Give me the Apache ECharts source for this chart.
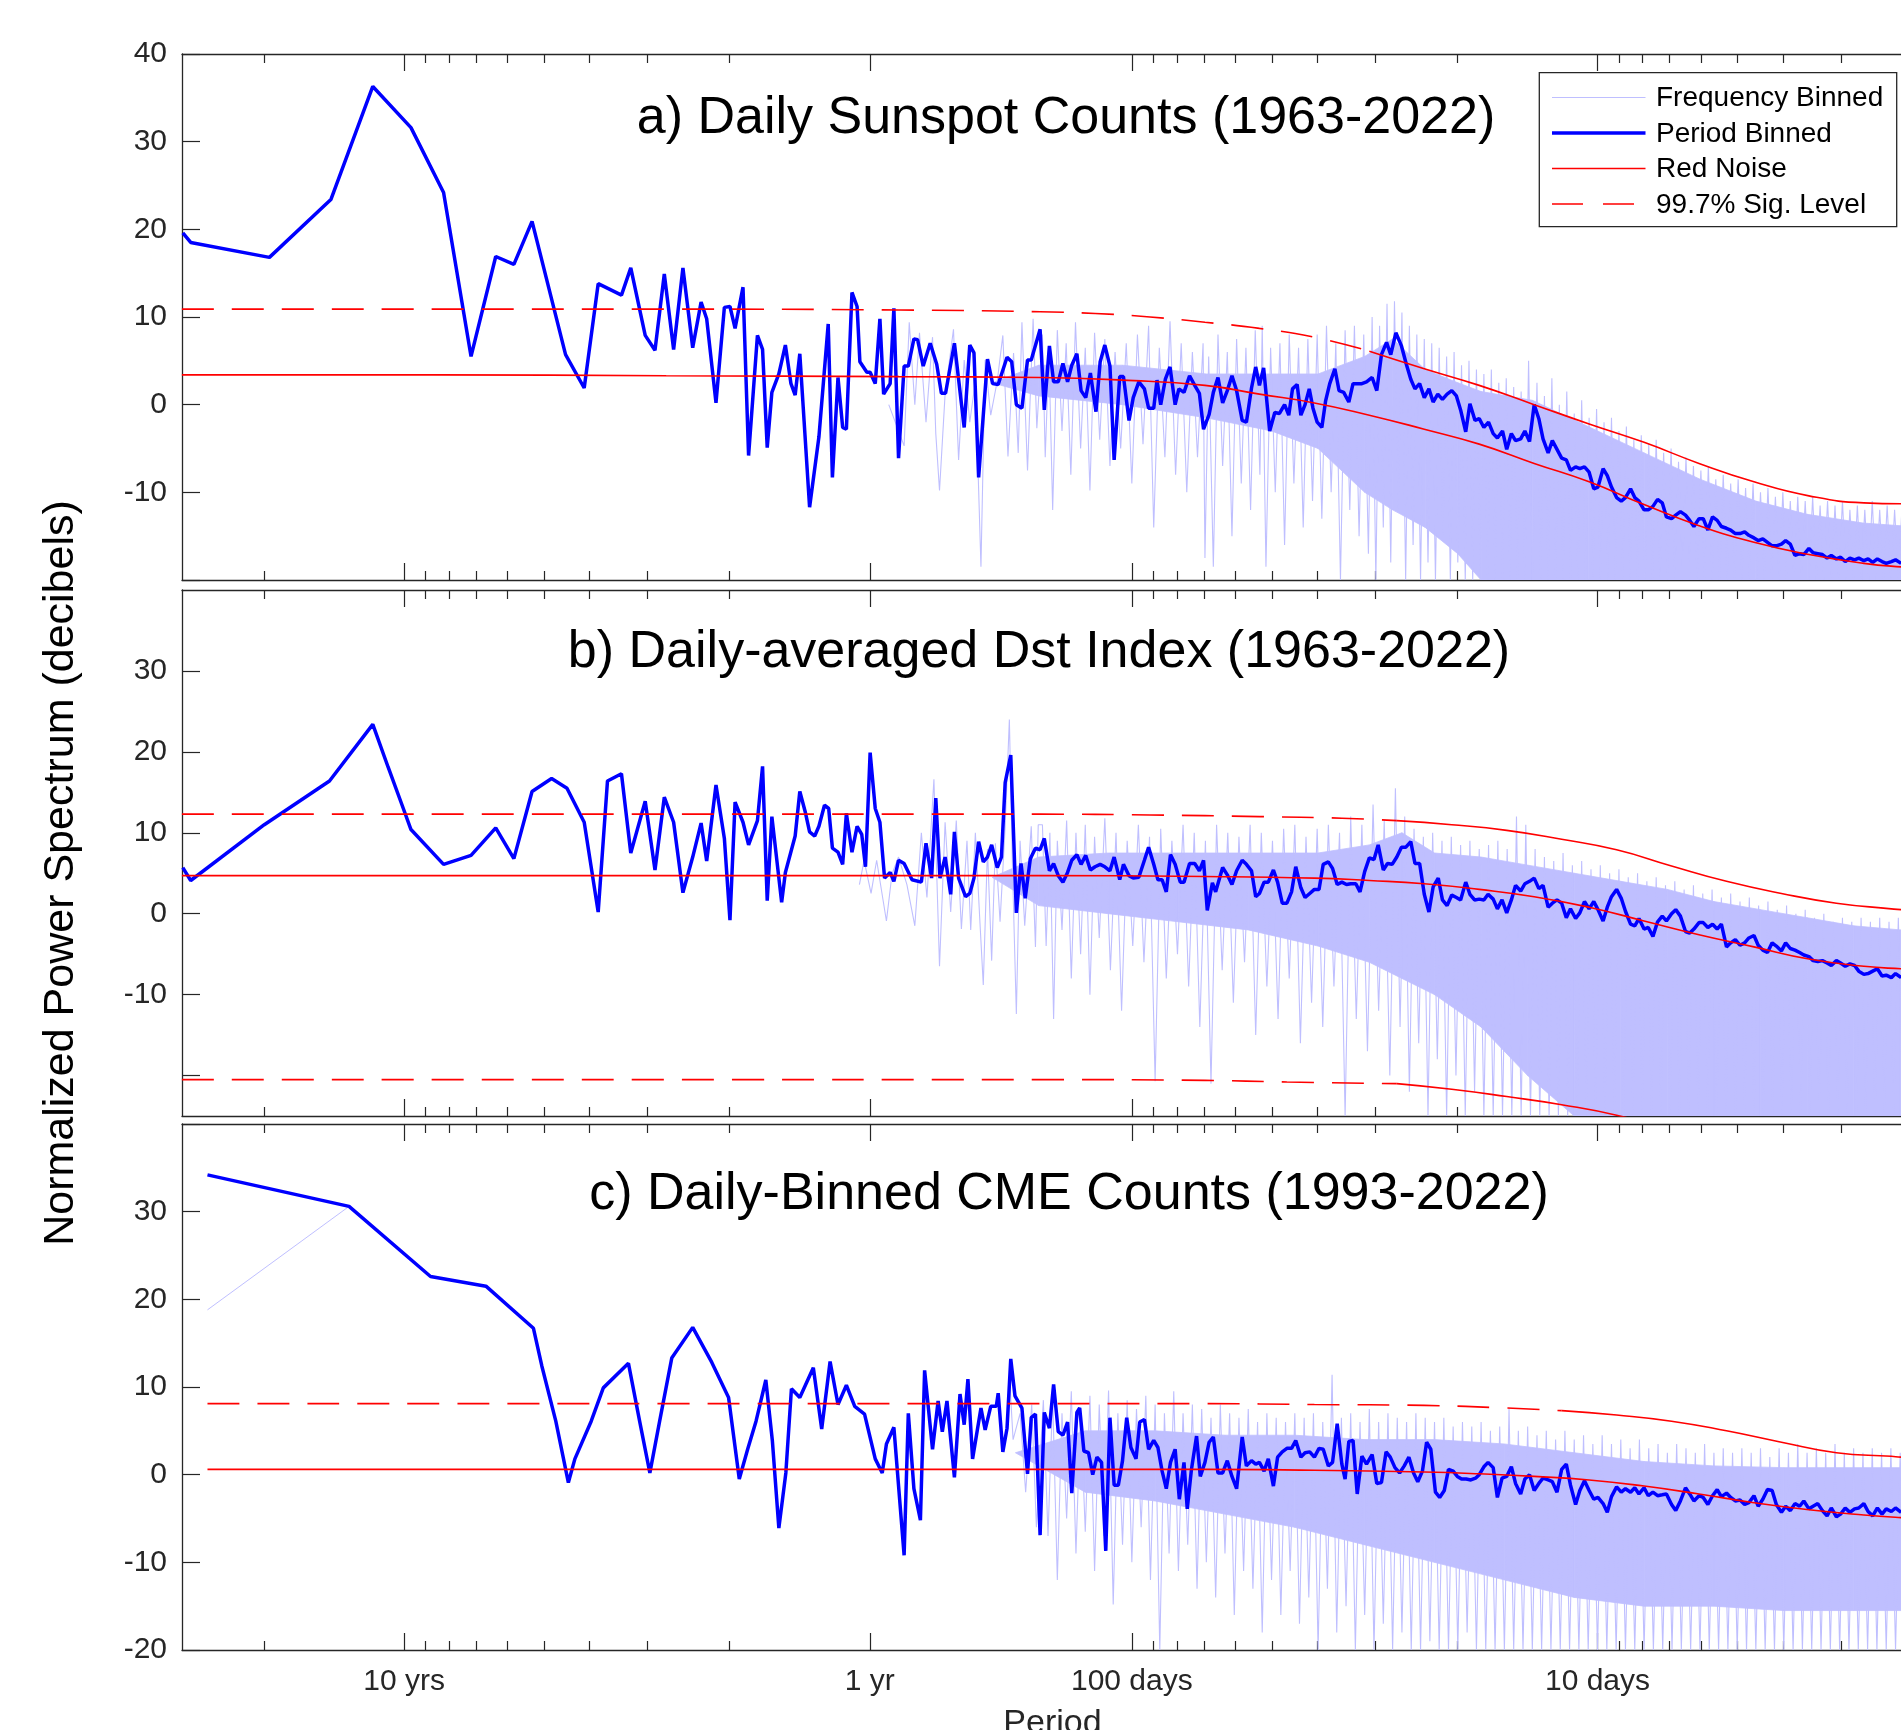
<!DOCTYPE html>
<html>
<head>
<meta charset="utf-8">
<title>Normalized power spectra</title>
<script src="https://cdn.jsdelivr.net/npm/echarts@6/dist/echarts.min.js"></script>
<style>
  html, body { margin: 0; padding: 0; background: #fff; }
  #chart { width: 1901px; height: 1730px; }
</style>
</head>
<body>
<div id="chart"></div>
<script>
// x values are log10(period in days), y values are dB

const periodTickDays = [3652.5, 365.25, 100, 10];
const periodTickLabels = ['10 yrs', '1 yr', '100 days', '10 days'];
const minorTickDays = [7305, 3287.25, 2922, 2556.75, 2191.5, 1826.25, 1461, 1095.75, 730.5,
  90, 80, 70, 60, 50, 40, 30, 20, 9, 8, 7, 6, 5, 4, 3, 2];
const periodRangeDays = [2, 10957.5];

const panelTitles = [
  'a) Daily Sunspot Counts (1963-2022)',
  'b) Daily-averaged Dst Index (1963-2022)',
  'c) Daily-Binned CME Counts (1993-2022)'
];
const yRanges = [[-20, 40], [-25, 40], [-20, 40]];
const yTickValues = [[-20, -10, 0, 10, 20, 30, 40], [-20, -10, 0, 10, 20, 30], [-20, -10, 0, 10, 20, 30, 40]];
const yLabelValues = [[-10, 0, 10, 20, 30, 40], [-10, 0, 10, 20, 30], [-20, -10, 0, 10, 20, 30]];
const legendNames = ['Frequency Binned', 'Period Binned', 'Red Noise', '99.7% Sig. Level'];

// ---------- a) sunspots ----------
const sunspotPeriodBinned = [
  [4.038,19.6],[4.021,18.5],[3.852,16.8],[3.720,23.4],[3.630,36.3],[3.548,31.6],[3.478,24.2],[3.419,5.5],
  [3.366,16.9],[3.327,16.0],[3.288,20.9],[3.216,5.7],[3.176,1.9],[3.146,13.8],[3.096,12.5],[3.076,15.6],
  [3.045,7.9],[3.024,6.2],[3.004,14.9],[2.984,6.3],[2.964,15.6],[2.943,6.5],[2.925,11.7],[2.913,9.8],
  [2.893,0.2],[2.875,11.1],[2.863,11.2],[2.852,8.7],[2.835,13.4],[2.823,-5.8],[2.804,7.9],[2.793,6.3],
  [2.783,-4.9],[2.773,1.4],[2.758,3.5],[2.744,6.8],[2.732,2.4],[2.723,1.1],[2.713,5.8],[2.692,-11.7],
  [2.672,-3.7],[2.652,9.2],[2.643,-8.3],[2.631,3.1],[2.621,-2.6],[2.613,-2.8],[2.601,12.8],[2.590,11.2],
  [2.584,4.9],[2.569,3.7],[2.562,3.7],[2.551,2.4],[2.541,9.8],[2.533,1.2],[2.519,2.4],[2.511,11.0],
  [2.501,-6.1],[2.489,4.4],[2.480,4.4],[2.468,7.5],[2.460,7.4],[2.448,4.4],[2.433,7.0],[2.419,4.6],
  [2.409,1.3],[2.400,1.3],[2.381,7.0],[2.360,-2.6],[2.348,6.8],[2.339,5.9],[2.329,-8.3],[2.310,5.2],
  [2.299,2.4],[2.287,2.3],[2.268,5.4],[2.258,4.9],[2.248,0.0],[2.236,-0.4],[2.224,5.1],[2.216,5.1],
  [2.197,8.6],[2.188,-0.6],[2.177,6.7],[2.168,2.6],[2.158,2.6],[2.148,4.7],[2.138,2.6],[2.129,4.5],
  [2.118,5.8],[2.109,1.6],[2.099,0.8],[2.089,3.6],[2.077,-0.8],[2.068,4.9],[2.058,6.8],[2.047,4.4],
  [2.038,-6.3],[2.026,3.2],[2.018,3.2],[2.006,-1.8],[1.997,0.8],[1.985,2.6],[1.973,1.8],[1.964,-0.4],
  [1.953,-0.4],[1.946,2.8],[1.938,0.0],[1.928,2.9],[1.918,4.3],[1.907,0.0],[1.899,1.8],[1.888,1.4],
  [1.876,3.3],[1.865,2.2],[1.855,1.3],[1.846,-2.8],[1.834,-1.1],[1.825,1.4],[1.815,3.1],[1.805,0.2],
  [1.795,1.6],[1.785,3.3],[1.775,1.6],[1.763,-1.8],[1.754,-2.0],[1.743,1.9],[1.734,4.3],[1.726,2.2],
  [1.717,4.2],[1.704,-3.0],[1.693,-0.9],[1.683,-1.0],[1.672,0.0],[1.663,-1.2],[1.655,1.8],[1.645,2.3],
  [1.637,-1.2],[1.628,0.0],[1.619,1.8],[1.611,-0.4],[1.602,-2.0],[1.592,-2.6],[1.584,0.4],[1.575,2.4],
  [1.564,4.1],[1.555,1.6],[1.545,1.4],[1.534,0.3],[1.525,2.4],[1.516,2.4],[1.506,2.4],[1.496,2.6],
  [1.484,3.1],[1.474,1.6],[1.464,5.7],[1.453,7.1],[1.444,5.7],[1.433,8.2],[1.421,6.7],[1.411,4.7],
  [1.401,2.9],[1.392,1.8],[1.382,2.4],[1.372,0.8],[1.362,1.8],[1.353,0.3],[1.343,1.2],[1.333,0.6],
  [1.323,1.2],[1.313,1.6],[1.303,1.0],[1.294,-0.6],[1.283,-3.1],[1.274,0.1],[1.263,-1.8],[1.254,-1.6],
  [1.244,-2.6],[1.234,-2.0],[1.224,-3.3],[1.215,-3.8],[1.204,-3.0],[1.195,-5.1],[1.185,-3.3],[1.176,-4.1],
  [1.165,-3.9],[1.156,-3.0],[1.146,-4.2],[1.136,0.0],[1.126,-1.6],[1.117,-3.9],[1.106,-5.5],[1.097,-4.1],
  [1.087,-5.1],[1.077,-6.1],[1.067,-6.3],[1.058,-7.5],[1.047,-7.1],[1.038,-7.3],[1.028,-7.1],[1.018,-7.7],
  [1.008,-9.6],[0.999,-9.4],[0.988,-7.3],[0.979,-8.1],[0.970,-9.4],[0.959,-10.6],[0.949,-11.0],[0.940,-10.6],
  [0.929,-9.6],[0.920,-10.6],[0.911,-11.0],[0.900,-12.0],[0.891,-12.0],[0.881,-11.6],[0.871,-10.8],[0.861,-11.2],
  [0.852,-12.8],[0.841,-13.0],[0.832,-12.6],[0.822,-12.2],[0.811,-12.6],[0.802,-13.2],[0.793,-13.9],[0.782,-13.0],
  [0.773,-13.0],[0.763,-14.3],[0.753,-12.8],[0.743,-13.2],[0.734,-13.9],[0.723,-14.1],[0.714,-14.3],[0.704,-14.7],
  [0.694,-14.7],[0.684,-14.5],[0.675,-14.9],[0.664,-15.2],[0.655,-15.5],[0.645,-15.3],[0.635,-15.7],[0.625,-16.1],
  [0.616,-16.1],[0.605,-15.9],[0.596,-15.5],[0.586,-15.9],[0.576,-17.2],[0.566,-17.0],[0.557,-17.1],[0.546,-16.4],
  [0.537,-16.9],[0.527,-17.0],[0.517,-17.1],[0.507,-17.5],[0.498,-17.2],[0.487,-17.6],[0.478,-17.4],[0.468,-17.9],
  [0.458,-17.5],[0.448,-17.7],[0.439,-17.5],[0.428,-17.8],[0.419,-17.6],[0.409,-18.0],[0.399,-17.6],[0.389,-17.9],
  [0.380,-18.1],[0.369,-17.9],[0.360,-17.7],[0.348,-18.1]
];
// dense part of the frequency-binned spectrum: [logP, low, high]
const sunspotFreqBand = [
  [2.30,2.5,2.5],[2.20,1.0,4.5],[2.02,0.0,4.5],[1.84,-1.5,3.5],[1.70,-3.0,3.5],[1.60,-5.0,3.5],
  [1.50,-10.0,5.5],[1.44,-12.0,7.5],[1.37,-14.0,4.0],[1.30,-17.0,2.5],[1.25,-20.0,1.5],[1.14,-20.0,0.5],
  [1.02,-20.0,-2.5],[0.90,-20.0,-5.5],[0.78,-20.0,-8.5],[0.66,-20.0,-11.0],[0.55,-20.0,-12.5],
  [0.43,-20.0,-13.5],[0.30,-20.0,-14.0]
];
const sunspotFreqSpikes = [
  [2.522,0.0],[2.489,-4.7],[2.478,9.4],[2.466,0.0],[2.456,8.2],[2.442,-2.0],[2.428,7.7],[2.421,-3.3],
  [2.413,-9.8],[2.401,1.2],[2.383,8.6],[2.372,-6.3],[2.360,5.1],[2.348,-2.0],[2.336,2.7],[2.324,-18.5],
  [2.315,5.1],[2.303,-1.2],[2.289,2.7],[2.277,7.9],[2.266,-5.9],[2.254,5.9],[2.244,-5.5],[2.236,9.4],
  [2.224,-7.5],[2.212,9.8],[2.204,-2.7],
  [2.192,8.0],[2.186,-6.0],[2.178,6.0],[2.170,-12.0],[2.160,8.5],[2.150,-3.0],[2.141,7.0],[2.131,-8.0],
  [2.121,9.4],[2.110,-5.0],[2.100,6.5],[2.090,-9.8],[2.080,8.2],[2.069,-4.0],[2.058,7.5],[2.047,-7.0],
  [2.036,6.0],[2.024,-5.0],[2.012,7.0],[2.000,-9.0],[1.988,8.0],[1.976,-4.5],[1.964,9.0],[1.953,-14.0],
  [1.941,6.5],[1.929,-6.0],[1.918,9.5],[1.906,-8.0],[1.894,7.0],[1.882,-10.0],[1.870,6.0],[1.859,-6.0],
  [1.847,7.0],[1.843,-17.5],[1.835,5.5],[1.825,-18.5],
  [1.815,8.0],[1.805,-7.0],[1.795,6.0],[1.785,-15.0],[1.775,7.5],[1.765,-9.0],[1.755,6.5],[1.745,-12.0],
  [1.735,8.5],[1.725,-8.0],[1.720,9.0],[1.712,-18.5],[1.702,6.5],[1.692,-10.0],[1.682,7.0],[1.672,-16.0],
  [1.662,8.0],[1.652,-9.0],[1.642,6.5],[1.632,-14.0],[1.622,7.5],[1.612,-11.0],[1.602,8.0],[1.592,-13.0],
  [1.582,9.0],[1.572,-10.0],[1.562,7.0],[1.552,-20.0],[1.542,8.5],[1.532,-12.0],[1.522,9.0],[1.512,-15.0],
  [1.502,8.0],[1.492,-17.0],
  [1.484,10.0],[1.476,-20.0],[1.468,9.0],[1.460,-14.0],[1.452,11.5],[1.444,-18.0],[1.436,11.8],[1.428,-12.0],
  [1.420,10.5],[1.412,-20.0],[1.404,9.0],[1.396,-16.0],[1.388,8.0],[1.380,-20.0],[1.372,7.5],
  [1.364,-18.0],[1.356,7.0],[1.348,-20.0],[1.340,6.5],[1.332,-15.0],[1.324,5.5],[1.316,-20.0],[1.308,6.0],
  [1.300,-18.0],[1.292,4.5],[1.284,-20.0],[1.276,5.0],[1.268,-20.0],[1.260,4.0],[1.252,-19.0],[1.244,3.5],
  [1.236,-20.0],[1.228,4.0],[1.220,-20.0],[1.212,2.5],[1.204,-20.0],[1.196,3.0],[1.188,-20.0],[1.180,2.0],
  [1.172,-20.0],[1.164,1.5],[1.156,-20.0],[1.148,5.0],[1.140,-20.0],
  [1.130,2.5],[1.122,-20],[1.114,1.0],[1.106,-20],[1.098,3.0],[1.090,-20],[1.082,0.0],[1.074,-20],
  [1.066,1.5],[1.058,-20],[1.050,-1.0],[1.042,-20],[1.034,0.5],[1.026,-20],[1.018,-1.5],[1.010,-20],
  [1.002,-0.5],[0.994,-20],[0.986,-2.0],[0.978,-20],[0.970,-1.5],[0.962,-20],[0.954,-3.0],[0.946,-20],
  [0.938,-2.5],[0.930,-20],[0.922,-4.0],[0.914,-20],[0.906,-3.5],[0.898,-20],[0.890,-4.5],[0.882,-20],
  [0.874,-4.0],[0.866,-20],[0.858,-5.5],[0.850,-20],[0.842,-5.0],[0.834,-20],[0.826,-6.5],[0.818,-20],
  [0.810,-6.0],[0.802,-20],[0.794,-7.0],[0.786,-20],[0.778,-7.5],[0.770,-20],[0.762,-7.0],[0.754,-20],
  [0.746,-8.5],[0.738,-20],[0.730,-8.0],[0.722,-20],[0.714,-9.0],[0.706,-20],[0.698,-8.5],[0.690,-20],
  [0.682,-9.5],[0.674,-20],[0.666,-9.0],[0.658,-20],[0.650,-10.0],[0.642,-20],[0.634,-9.5],[0.626,-20],
  [0.618,-10.5],[0.610,-20],[0.602,-10.0],[0.594,-20],[0.586,-11.0],[0.578,-20],[0.570,-10.5],[0.562,-20],
  [0.554,-11.0],[0.546,-20],[0.538,-10.5],[0.530,-20],[0.522,-11.5],[0.514,-20],[0.506,-11.0],[0.498,-20],
  [0.490,-11.5],[0.482,-20],[0.474,-11.0],[0.466,-20],[0.458,-12.0],[0.450,-20],[0.442,-11.5],[0.434,-20],
  [0.426,-12.0],[0.418,-20],[0.410,-11.0],[0.402,-20],[0.394,-12.0],[0.386,-20],[0.378,-11.5],[0.370,-20],
  [0.362,-12.0],[0.354,-20],[0.346,-11.5],[0.338,-20],[0.330,-12.0],[0.322,-20],[0.314,-11.5],[0.306,-20]
];
const sunspotRedNoise = [
  [4.040,3.4],[3.500,3.4],[3.000,3.3],[2.500,3.2],[2.197,3.1],[2.020,2.8],[1.843,2.2],[1.726,1.2],
  [1.608,0.2],[1.490,-1.2],[1.372,-2.8],[1.254,-4.5],[1.136,-6.7],[1.018,-8.8],[0.900,-11.4],[0.782,-13.8],
  [0.664,-15.7],[0.546,-17.1],[0.428,-18.1],[0.348,-18.5],[0.301,-18.6]
];
const sunspotSigDashed = [
  [4.040,10.9],[3.000,10.9],[2.500,10.8],[2.197,10.6],[2.079,10.4],[1.961,10.0],[1.843,9.4],[1.726,8.7],
  [1.608,7.7],[1.490,6.1]
];
const sunspotSigSolid = [
  [1.490,6.1],[1.372,4.1],[1.254,2.2],[1.136,0.0],[1.018,-2.2],[0.900,-4.3],[0.782,-6.7],[0.664,-8.8],
  [0.546,-10.4],[0.428,-11.2],[0.348,-11.3],[0.301,-11.3]
];

// ---------- b) Dst ----------
const dstPeriodBinned = [
  [4.038,5.7],[4.021,4.1],[3.863,11.0],[3.723,16.4],[3.630,23.4],[3.597,18.1],[3.567,13.4],[3.548,10.4],
  [3.478,6.1],[3.419,7.2],[3.366,10.6],[3.327,6.8],[3.288,15.1],[3.246,16.7],[3.213,15.5],[3.176,11.3],
  [3.146,0.2],[3.126,16.4],[3.096,17.3],[3.076,7.5],[3.045,13.9],[3.024,5.4],[3.004,14.4],[2.984,11.3],
  [2.964,2.6],[2.943,7.0],[2.925,11.2],[2.913,6.5],[2.893,15.9],[2.875,9.3],[2.863,-0.8],[2.852,13.8],
  [2.835,11.3],[2.823,8.5],[2.804,11.5],[2.793,18.2],[2.783,1.6],[2.773,12.0],[2.752,1.4],[2.744,5.1],
  [2.723,9.6],[2.713,15.1],[2.701,12.5],[2.692,10.1],[2.681,9.6],[2.672,10.8],[2.660,13.4],[2.651,13.0],
  [2.643,8.1],[2.631,7.6],[2.621,6.1],[2.613,12.4],[2.601,7.6],[2.590,10.8],[2.580,9.8],[2.572,5.8],
  [2.562,19.9],[2.551,13.0],[2.541,11.3],[2.531,4.4],[2.519,5.1],[2.511,4.0],[2.501,6.6],[2.489,6.2],
  [2.472,4.2],[2.452,3.9],[2.442,8.7],[2.430,4.4],[2.421,14.3],[2.412,4.4],[2.401,7.0],[2.389,2.4],
  [2.381,10.1],[2.372,4.4],[2.357,2.1],[2.348,2.5],[2.339,4.4],[2.329,8.9],[2.319,6.4],[2.310,7.0],
  [2.301,8.5],[2.289,5.7],[2.280,7.0],[2.272,16.2],[2.260,19.6],[2.248,0.1],[2.238,6.2],[2.229,1.9],
  [2.218,6.8],[2.207,8.1],[2.197,7.9],
  [2.188,9.3],[2.177,5.3],[2.168,6.2],[2.158,4.7],[2.148,3.9],[2.138,5.1],[2.129,6.6],[2.118,7.3],
  [2.109,6.1],[2.099,7.2],[2.089,5.4],[2.079,5.8],[2.068,6.1],[2.058,5.8],[2.047,5.3],[2.038,7.0],
  [2.026,4.2],[2.018,6.1],[2.006,4.7],[1.997,4.4],[1.985,4.5],[1.973,6.6],[1.964,8.2],[1.953,6.1],
  [1.944,4.2],[1.935,4.2],[1.926,2.7],[1.917,7.3],[1.907,6.1],[1.896,3.9],[1.888,3.9],[1.876,6.2],
  [1.865,6.2],[1.855,5.3],[1.846,6.6],[1.838,0.4],[1.827,3.8],[1.820,2.7],[1.805,5.7],[1.795,4.8],
  [1.785,3.6],[1.775,5.3],[1.763,6.6],[1.754,6.1],[1.743,5.3],[1.734,2.1],[1.726,2.5],[1.716,3.9],
  [1.707,3.9],[1.696,5.4],[1.687,3.9],[1.677,1.3],[1.667,1.3],[1.657,2.7],[1.648,5.8],[1.637,3.2],
  [1.628,2.0],[1.618,2.5],[1.608,3.0],[1.598,3.0],[1.589,6.1],[1.578,6.4],[1.569,5.6],[1.559,3.6],
  [1.549,3.9],[1.539,3.6],[1.530,3.7],[1.519,3.7],[1.510,2.7],[1.500,5.2],[1.490,6.9],[1.480,6.7],
  [1.471,8.5],[1.460,5.4],[1.451,6.2],[1.441,6.1],[1.431,7.0],[1.421,8.2],[1.412,8.2],[1.401,8.9],
  [1.392,6.2],[1.382,6.2],[1.372,2.4],[1.362,0.2],[1.353,3.3],[1.342,4.4],[1.333,1.7],[1.323,1.0],
  [1.313,2.3],[1.303,2.0],[1.294,1.7],[1.283,3.9],[1.274,2.4],[1.264,1.7],[1.254,1.8],[1.244,1.7],
  [1.235,2.4],[1.224,1.8],[1.215,0.6],[1.205,1.7],[1.195,0.1],[1.185,1.7],[1.176,3.5],[1.165,2.8],
  [1.156,3.7],[1.146,4.0],[1.136,4.4],[1.126,3.1],[1.117,3.5],[1.106,0.8],[1.097,1.3],[1.087,1.7],
  [1.077,1.3],[1.067,-0.5],[1.058,0.6],[1.047,-0.6],[1.038,0.1],[1.028,1.5],[1.018,0.6],[1.008,1.5],
  [0.999,0.5],[0.988,-0.9],[0.979,0.8],[0.970,2.1],[0.959,3.0],[0.949,1.9],[0.940,0.3],[0.929,-1.3],
  [0.920,-1.5],[0.911,-0.6],[0.900,-1.9],[0.891,-1.7],[0.881,-2.8],[0.871,-1.0],[0.861,-0.3],[0.852,-0.9],
  [0.841,0.0],[0.832,0.5],[0.822,-0.3],[0.811,-2.2],[0.802,-2.4],[0.793,-1.9],[0.782,-1.1],[0.773,-1.1],
  [0.763,-1.7],[0.753,-1.3],[0.743,-1.9],[0.734,-1.3],[0.723,-4.1],[0.714,-3.6],[0.704,-3.2],[0.694,-3.9],
  [0.684,-3.6],[0.675,-3.0],[0.664,-2.7],[0.655,-3.9],[0.645,-4.5],[0.635,-4.8],[0.625,-3.6],[0.616,-4.0],
  [0.605,-4.6],[0.596,-3.6],[0.586,-4.3],[0.576,-4.5],[0.566,-4.8],[0.557,-5.1],[0.546,-5.3],[0.537,-5.8],
  [0.527,-5.9],[0.517,-5.8],[0.507,-6.1],[0.498,-6.4],[0.487,-5.8],[0.478,-6.1],[0.468,-6.5],[0.458,-6.2],
  [0.448,-6.4],[0.439,-7.1],[0.428,-7.5],[0.419,-7.4],[0.409,-7.1],[0.399,-6.8],[0.389,-7.7],[0.380,-7.6],
  [0.369,-7.9],[0.360,-7.4],[0.348,-7.9]
];
const dstFreqBand = [
  [2.30,4.5,4.5],[2.20,1.0,7.0],[2.05,0.0,7.5],[1.90,-1.0,7.5],[1.75,-2.0,7.5],[1.60,-4.0,7.5],
  [1.49,-6.0,8.5],[1.42,-8.0,10.0],[1.35,-10.0,7.5],[1.25,-14.0,7.0],[1.15,-20.0,6.0],[1.05,-25.0,5.0],
  [0.95,-25.0,4.0],[0.85,-25.0,3.0],[0.75,-25.0,1.5],[0.65,-25.0,0.5],[0.55,-25.0,-0.5],[0.45,-25.0,-1.5],
  [0.35,-25.0,-2.0],[0.30,-25.0,-2.0]
];
const dstFreqSpikes = [
  [2.585,3.6],[2.575,6.6],[2.560,2.5],[2.548,6.6],[2.527,-0.9],[2.515,4.9],[2.501,7.0],[2.483,3.6],
  [2.466,-1.5],[2.452,10.0],[2.440,2.0],[2.425,16.6],[2.413,-6.5],[2.401,11.3],[2.389,0.2],[2.377,11.5],
  [2.366,-1.9],[2.354,9.0],[2.346,-2.0],[2.336,10.0],[2.327,-0.2],[2.319,-8.8],[2.310,8.0],[2.301,-5.8],
  [2.293,8.7],[2.283,-1.0],[2.272,10.8],[2.263,24.0],[2.256,5.0],[2.248,-12.4],[2.240,9.0],[2.230,-1.5],
  [2.216,10.8],[2.207,-4.1],[2.201,11.0],
  [2.192,11.0],[2.184,-4.0],[2.176,10.0],[2.168,-13.0],[2.160,9.0],[2.150,-2.0],[2.140,11.5],[2.130,-8.0],
  [2.120,10.0],[2.110,-5.0],[2.100,11.0],[2.090,-10.0],[2.080,9.5],[2.070,-3.0],[2.058,11.8],[2.046,-7.0],
  [2.034,10.0],[2.022,-12.0],[2.010,9.0],[1.998,-4.0],[1.986,11.0],[1.974,-6.0],[1.962,9.5],[1.950,-20.7],
  [1.938,10.5],[1.926,-8.0],[1.914,9.0],[1.902,-5.0],[1.890,11.0],[1.878,-9.0],[1.866,10.0],[1.854,-14.0],
  [1.842,9.0],[1.830,-21.0],[1.818,11.0],[1.806,-7.0],[1.794,10.0],[1.782,-11.0],[1.770,9.5],[1.758,-6.0],
  [1.746,11.0],[1.734,-15.0],[1.722,10.0],[1.710,-9.0],[1.698,9.0],[1.686,-13.0],[1.674,10.5],[1.662,-8.0],
  [1.650,11.0],[1.638,-16.0],[1.626,9.5],[1.614,-11.0],[1.602,10.5],[1.590,-14.0],[1.578,11.0],[1.566,-9.0],
  [1.554,10.0],[1.542,-25.0],[1.530,12.0],[1.518,-13.0],[1.506,11.0],[1.494,-17.0],[1.482,13.5],[1.470,-12.0],
  [1.458,11.5],[1.446,-20.0],[1.434,15.5],[1.424,-14.0],[1.414,12.0],[1.404,-22.0],[1.394,10.5],[1.384,-16.0],
  [1.374,9.5],[1.364,-25.0],[1.354,10.0],[1.344,-18.0],[1.334,9.0],[1.324,-25.0],[1.314,9.5],[1.304,-20.0],
  [1.294,8.5],[1.284,-25.0],[1.274,9.0],[1.264,-22.0],[1.254,8.0],[1.244,-25.0],[1.234,8.5],[1.224,-25.0],
  [1.214,9.0],[1.204,-25.0],[1.194,8.0],[1.184,-25.0],[1.174,12.0],[1.164,-25.0],[1.154,11.0],[1.144,-25.0],
  [1.134,8.0],[1.124,-25.0],[1.114,7.0],[1.104,-25.0],[1.094,6.5],[1.084,-25.0],[1.074,7.5],[1.064,-25.0],
  [1.054,6.0],[1.044,-25.0],[1.034,6.5],[1.024,-25.0],[1.014,5.5],[1.004,-25.0],[0.994,6.0],[0.984,-25.0],
  [0.974,5.0],[0.964,-25.0],[0.954,5.5],[0.944,-25.0],[0.934,4.5],[0.924,-25.0],[0.914,5.0],[0.904,-25.0],
  [0.894,4.0],[0.884,-25.0],[0.874,4.5],[0.864,-25.0],[0.854,3.5],[0.844,-25.0],[0.834,4.0],[0.824,-25.0],
  [0.814,3.0],[0.804,-25.0],[0.794,3.5],[0.784,-25.0],[0.774,2.5],[0.764,-25.0],[0.754,3.0],[0.744,-25.0],
  [0.734,2.0],[0.724,-25.0],[0.714,2.5],[0.704,-25.0],[0.694,1.5],[0.684,-25.0],[0.674,2.0],[0.664,-25.0],
  [0.654,1.0],[0.644,-25.0],[0.634,1.5],[0.624,-25.0],[0.614,0.5],[0.604,-25.0],[0.594,1.0],[0.584,-25.0],
  [0.574,0.0],[0.564,-25.0],[0.554,0.5],[0.544,-25.0],[0.534,-0.5],[0.524,-25.0],[0.514,0.0],[0.504,-25.0],
  [0.494,-1.0],[0.484,-25.0],[0.474,-0.5],[0.464,-25.0],[0.454,-1.0],[0.444,-25.0],[0.434,-0.5],[0.424,-25.0],
  [0.414,-1.0],[0.404,-25.0],[0.394,-0.5],[0.384,-25.0],[0.374,-1.0],[0.364,-25.0],[0.354,-0.5],[0.344,-25.0],
  [0.334,-1.0],[0.324,-25.0],[0.314,-0.5],[0.304,-25.0]
];
const dstRedNoise = [
  [4.040,4.7],[3.000,4.7],[2.197,4.7],[1.843,4.6],[1.608,4.4],[1.490,4.1],[1.372,3.7],[1.254,3.0],
  [1.136,2.1],[1.018,0.8],[0.900,-0.9],[0.782,-2.6],[0.664,-4.1],[0.546,-5.6],[0.428,-6.5],[0.348,-6.8],
  [0.301,-6.9]
];
const dstSigDashed = [
  [4.040,12.3],[3.000,12.3],[2.197,12.3],[1.961,12.2],[1.726,12.0],[1.549,11.8],[1.431,11.5]
];
const dstSigSolid = [
  [1.431,11.5],[1.313,11.0],[1.195,10.3],[1.077,9.2],[0.959,7.9],[0.841,5.9],[0.723,4.0],[0.605,2.5],
  [0.487,1.3],[0.369,0.6],[0.348,0.5],[0.301,0.4]
];
const dstSigLowDashed = [
  [4.040,-20.5],[3.000,-20.5],[2.197,-20.5],[1.843,-20.6],[1.667,-20.8],[1.431,-21.0]
];
const dstSigLowSolid = [
  [1.431,-21.0],[1.313,-21.7],[1.195,-22.6],[1.077,-23.6],[0.959,-24.9],[0.841,-26.8]
];

// ---------- c) CMEs ----------
const cmeFreqLead = [[3.985,18.8],[3.681,30.6]];
const cmePeriodBinned = [
  [3.985,34.2],[3.681,30.6],[3.506,22.6],[3.387,21.5],[3.285,16.7],[3.267,12.4],[3.237,6.1],[3.210,-0.9],
  [3.196,1.8],[3.161,6.1],[3.135,9.9],[3.081,12.7],[3.057,6.1],[3.035,0.2],[3.014,6.1],[2.988,13.3],
  [2.943,16.8],[2.902,12.8],[2.866,8.8],[2.843,-0.5],[2.825,2.9],[2.807,6.1],[2.786,10.8],[2.772,3.9],
  [2.758,-6.1],[2.743,0.2],[2.731,9.8],[2.713,8.8],[2.684,12.2],[2.666,5.2],[2.648,12.9],[2.631,8.0],
  [2.613,10.2],[2.595,7.8],[2.574,6.9],[2.551,1.8],[2.536,0.2],[2.527,3.5],[2.511,5.4],[2.489,-9.2],
  [2.480,7.0],[2.468,-1.6],[2.454,-5.2],[2.445,11.9],[2.428,2.9],[2.416,8.4],[2.407,4.9],[2.397,8.4],
  [2.381,-0.3],[2.369,9.2],[2.360,5.7],[2.352,10.9],[2.342,1.8],[2.324,7.6],[2.315,5.1],[2.303,7.8],
  [2.291,7.8],[2.287,9.3],[2.277,2.6],[2.268,5.3],[2.260,13.2],[2.251,9.0],[2.236,7.6],[2.224,0.1],
  [2.216,6.5],[2.207,6.9],[2.197,-6.9],
  [2.188,7.1],[2.177,5.3],[2.168,10.3],[2.158,4.9],[2.148,4.5],[2.138,6.0],[2.129,-2.1],[2.118,7.1],
  [2.112,7.6],[2.103,2.7],[2.093,2.5],[2.084,0.0],[2.075,2.0],[2.065,1.4],[2.056,-8.7],[2.047,6.5],
  [2.038,-1.2],[2.029,-1.2],[2.020,1.6],[2.011,6.5],[2.002,3.1],[1.991,1.8],[1.983,6.0],[1.973,6.3],
  [1.964,2.9],[1.953,3.9],[1.944,3.1],[1.935,0.4],[1.926,-1.6],[1.917,1.4],[1.907,2.9],[1.898,-2.8],
  [1.888,1.4],[1.881,-3.9],[1.872,0.6],[1.861,4.4],[1.853,-0.2],[1.843,1.4],[1.834,3.7],[1.825,4.3],
  [1.815,0.2],[1.805,0.2],[1.795,1.6],[1.785,-0.2],[1.775,-1.6],[1.763,4.3],[1.754,1.0],[1.743,1.6],
  [1.734,1.2],[1.726,1.4],[1.716,0.4],[1.707,1.8],[1.696,-1.3],[1.687,2.0],[1.677,2.6],[1.667,3.0],
  [1.657,3.0],[1.648,3.9],[1.637,2.0],[1.628,2.5],[1.618,2.6],[1.608,2.0],[1.598,3.0],[1.589,2.9],
  [1.578,1.0],[1.569,1.4],[1.559,5.8],[1.549,1.2],[1.542,-0.5],[1.534,3.8],[1.525,3.9],[1.516,-2.2],
  [1.506,2.1],[1.496,1.2],[1.484,2.3],[1.474,-1.0],[1.464,-0.9],[1.454,2.6],[1.445,2.0],[1.435,0.8],
  [1.425,0.2],[1.415,1.0],[1.405,2.0],[1.395,0.2],[1.386,-0.8],[1.376,0.4],[1.367,3.7],[1.358,2.9],
  [1.348,-2.0],[1.339,-2.6],[1.329,-1.8],[1.320,0.6],[1.310,0.4],[1.301,-0.2],[1.292,-0.5],[1.282,-0.5],
  [1.272,-0.6],[1.262,-0.4],[1.254,0.0],[1.244,0.9],[1.235,1.4],[1.224,0.8],[1.215,-2.6],[1.205,-0.4],
  [1.195,-0.2],[1.185,0.9],[1.176,-1.0],[1.165,-2.2],[1.156,-0.5],[1.146,0.0],[1.136,-1.8],[1.126,-1.0],
  [1.117,-0.4],[1.106,-0.6],[1.097,-0.8],[1.087,-2.0],[1.077,0.6],[1.067,1.2],[1.058,-1.2],[1.047,-3.4],
  [1.038,-1.8],[1.028,-0.7],[1.018,-1.8],[1.008,-2.8],[0.999,-2.6],[0.988,-3.3],[0.979,-4.3],[0.970,-2.5],
  [0.959,-1.4],[0.949,-2.0],[0.940,-1.6],[0.929,-2.0],[0.920,-1.5],[0.911,-2.2],[0.900,-1.5],[0.891,-2.4],
  [0.881,-2.0],[0.871,-2.4],[0.861,-2.3],[0.852,-2.2],[0.841,-3.4],[0.832,-4.1],[0.822,-3.0],[0.811,-1.5],
  [0.802,-2.2],[0.793,-3.0],[0.782,-2.4],[0.773,-2.6],[0.763,-3.4],[0.753,-2.4],[0.743,-1.7],[0.734,-2.5],
  [0.723,-2.1],[0.714,-2.6],[0.704,-3.0],[0.694,-2.9],[0.684,-3.4],[0.675,-3.2],[0.664,-2.4],[0.655,-3.6],
  [0.645,-2.8],[0.635,-1.7],[0.625,-1.8],[0.616,-3.4],[0.605,-4.3],[0.596,-3.6],[0.586,-4.1],[0.576,-3.3],
  [0.566,-3.6],[0.557,-3.0],[0.546,-3.9],[0.537,-3.6],[0.527,-3.3],[0.517,-4.1],[0.507,-4.7],[0.498,-3.8],
  [0.487,-4.8],[0.478,-4.5],[0.468,-3.8],[0.458,-4.3],[0.448,-3.9],[0.439,-3.8],[0.428,-3.3],[0.419,-4.2],
  [0.409,-4.7],[0.399,-3.8],[0.389,-4.5],[0.380,-3.9],[0.369,-4.2],[0.360,-3.8],[0.348,-4.3]
];
const cmeFreqBand = [
  [2.25,2.5,2.5],[2.10,-2.0,5.0],[1.95,-3.0,5.0],[1.80,-4.5,4.5],[1.65,-6.0,4.5],[1.50,-8.0,4.0],
  [1.35,-10.0,4.0],[1.20,-12.0,3.5],[1.05,-14.0,2.5],[0.90,-15.0,1.5],[0.75,-15.0,1.0],[0.60,-15.5,0.8],
  [0.45,-15.5,0.8],[0.30,-15.5,0.8]
];
const cmeFreqSpikes = [
  [2.262,10.6],[2.255,4.0],[2.240,7.0],[2.228,-2.0],[2.215,8.0],[2.205,-6.0],
  [2.190,8.5],[2.180,-7.0],[2.170,9.0],[2.160,-12.0],[2.150,7.0],[2.140,-5.0],[2.130,9.5],[2.120,-9.0],
  [2.110,7.5],[2.100,-6.5],[2.090,9.0],[2.080,-11.0],[2.070,8.0],[2.060,-7.0],[2.050,9.6],[2.040,-14.8],
  [2.030,7.0],[2.020,-8.0],[2.010,8.5],[2.000,-10.0],[1.990,7.5],[1.980,-6.0],[1.970,9.0],[1.960,-12.0],
  [1.950,8.0],[1.940,-20.0],[1.930,7.0],[1.920,-9.0],[1.910,9.5],[1.900,-11.0],[1.890,7.0],[1.880,-8.0],
  [1.870,8.0],[1.860,-13.0],[1.850,7.5],[1.840,-10.0],[1.830,6.5],[1.820,-14.0],[1.810,8.0],[1.800,-9.0],
  [1.790,7.0],[1.780,-16.0],[1.770,6.5],[1.760,-11.0],[1.750,7.5],[1.740,-13.0],[1.730,6.0],[1.720,-18.0],
  [1.710,7.0],[1.700,-12.0],[1.690,6.5],[1.680,-16.0],[1.670,6.0],[1.660,-11.0],[1.650,7.0],[1.640,-17.0],
  [1.630,6.5],[1.620,-14.0],[1.610,7.0],[1.600,-20.0],[1.590,6.0],[1.580,-13.0],[1.570,11.4],[1.560,-18.0],
  [1.550,6.5],[1.540,-15.0],[1.530,7.0],[1.520,-20.0],[1.510,6.0],[1.500,-16.0],[1.490,7.5],[1.480,-20.0],
  [1.470,6.0],[1.460,-17.0],[1.450,7.0],[1.440,-20.0],[1.430,6.5],[1.420,-18.0],[1.410,6.0],[1.400,-20.0],
  [1.390,7.0],[1.380,-20.0],[1.370,6.5],[1.360,-19.0],[1.350,6.0],[1.340,-20.0],[1.330,6.5],[1.320,-20.0],
  [1.310,5.5],[1.300,-20.0],[1.290,6.0],[1.280,-18.0],[1.270,5.5],[1.260,-20.0],[1.250,6.0],[1.240,-20.0],
  [1.230,5.0],[1.220,-20.0],[1.210,5.5],[1.200,-20.0],[1.190,7.5],[1.180,-20.0],[1.170,5.0],[1.160,-20.0],
  [1.150,5.5],[1.140,-20.0],[1.130,4.5],[1.120,-20.0],[1.110,5.0],[1.100,-20.0],[1.090,4.0],[1.080,-20.0],
  [1.070,5.0],[1.060,-20.0],[1.050,4.0],[1.040,-20.0],[1.030,4.5],[1.020,-20.0],[1.010,3.5],[1.000,-20.0],
  [0.990,4.5],[0.980,-20.0],[0.970,3.5],[0.960,-20.0],[0.950,4.0],[0.940,-20.0],[0.930,3.0],[0.920,-20.0],
  [0.910,4.0],[0.900,-20.0],[0.890,3.0],[0.880,-20.0],[0.870,3.5],[0.860,-20.0],[0.850,2.5],[0.840,-20.0],
  [0.830,3.5],[0.820,-20.0],[0.810,3.0],[0.800,-20.0],[0.790,2.5],[0.780,-20.0],[0.770,3.5],[0.760,-20.0],
  [0.750,2.5],[0.740,-20.0],[0.730,3.0],[0.720,-20.0],[0.710,2.5],[0.700,-20.0],[0.690,3.0],[0.680,-20.0],
  [0.670,2.5],[0.660,-20.0],[0.650,3.0],[0.640,-20.0],[0.630,2.0],[0.620,-20.0],[0.610,3.0],[0.600,-20.0],
  [0.590,2.5],[0.580,-20.0],[0.570,3.5],[0.560,-20.0],[0.550,2.5],[0.540,-20.0],[0.530,3.0],[0.520,-20.0],
  [0.510,2.5],[0.500,-20.0],[0.490,3.5],[0.480,-20.0],[0.470,2.5],[0.460,-20.0],[0.450,3.0],[0.440,-20.0],
  [0.430,2.5],[0.420,-20.0],[0.410,3.0],[0.400,-20.0],[0.390,2.5],[0.380,-20.0],[0.370,3.0],[0.360,-20.0],
  [0.350,2.5],[0.340,-20.0],[0.330,3.5],[0.320,-20.0],[0.310,3.0],[0.300,-20.0]
];
const cmeRedNoise = [
  [3.985,0.6],[3.000,0.6],[2.197,0.6],[1.843,0.6],[1.608,0.5],[1.372,0.3],[1.254,0.1],[1.136,-0.2],
  [1.018,-0.6],[0.900,-1.3],[0.782,-2.2],[0.664,-3.2],[0.546,-4.0],[0.428,-4.6],[0.348,-4.9],[0.301,-5.0]
];
const cmeSigDashed = [
  [3.985,8.1],[3.000,8.1],[2.197,8.1],[1.843,8.1],[1.608,8.0],[1.372,7.9],[1.195,7.6],[1.077,7.3]
];
const cmeSigSolid = [
  [1.077,7.3],[0.959,6.8],[0.841,6.1],[0.723,5.0],[0.605,3.7],[0.487,2.5],[0.369,2.1],[0.348,2.0],[0.301,2.0]
];

// ---------- chart ----------
const LIGHT = '#bfbfff', BLUE = '#0000ff', RED = '#ff0000', AXIS = '#262626';
const FONT = '"Liberation Sans", Arial, Helvetica, sans-serif';
const DASH = [32, 18];

const gridTops = [54, 590, 1124];
const titlePos = [[1066, 119], [1039, 653], [1069, 1195]];

const logTicks = periodTickDays.map(Math.log10);
const logMinor = minorTickDays.map(Math.log10);
const xMin = Math.log10(periodRangeDays[0]);
const xMax = Math.log10(periodRangeDays[1]);

const panels = [
  { band: sunspotFreqBand, spikes: sunspotFreqSpikes, binned: sunspotPeriodBinned, red: sunspotRedNoise,
    sig: [[sunspotSigDashed, sunspotSigSolid]] },
  { band: dstFreqBand, spikes: dstFreqSpikes, binned: dstPeriodBinned, red: dstRedNoise,
    sig: [[dstSigDashed, dstSigSolid], [dstSigLowDashed, dstSigLowSolid]] },
  { band: cmeFreqBand, spikes: cmeFreqSpikes, lead: cmeFreqLead, binned: cmePeriodBinned, red: cmeRedNoise,
    sig: [[cmeSigDashed, cmeSigSolid]] }
];

function periodAxis(g, position, ticks, tickLen, showLine, showLabels) {
  const ax = {
    type: 'value', gridIndex: g, position: position, min: xMin, max: xMax, inverse: true,
    axisLine: { show: showLine, onZero: false, lineStyle: { color: AXIS, width: 1.3 } },
    axisTick: { show: true, inside: true, length: tickLen, customValues: ticks,
      lineStyle: { color: AXIS, width: 1.2 } },
    axisLabel: { show: showLabels, customValues: logTicks, margin: 17, fontSize: 30, color: AXIS,
      fontFamily: FONT,
      formatter: v => {
        const i = logTicks.findIndex(t => Math.abs(t - v) < 1e-6);
        return i >= 0 ? periodTickLabels[i] : '';
      } },
    splitLine: { show: false }
  };
  if (showLabels) {
    ax.name = 'Period';
    ax.nameLocation = 'middle';
    ax.nameGap = 57;
    ax.nameTextStyle = { fontSize: 34, color: AXIS, fontFamily: FONT };
  }
  return ax;
}

// filled envelope of the dense frequency-binned spectrum, one quad per pair of readings
function bandSeries(g, band) {
  return {
    type: 'custom', name: 'band-' + g, xAxisIndex: g * 4, yAxisIndex: g,
    silent: true, animation: false, clip: true,
    data: band, encode: { x: 0, y: [1, 2] },
    renderItem: (params, api) => {
      const i = params.dataIndex;
      if (i >= band.length - 1) return null;
      const a = band[i], b = band[i + 1];
      const pts = [api.coord([a[0], a[1]]), api.coord([b[0], b[1]]),
                   api.coord([b[0], b[2]]), api.coord([a[0], a[2]])];
      return { type: 'polygon', shape: { points: pts },
        style: { fill: LIGHT, stroke: LIGHT, lineWidth: 0.8 } };
    }
  };
}

const grids = [], xAxes = [], yAxes = [], series = [];

panels.forEach((p, g) => {
  grids.push({ left: 182, top: gridTops[g], width: 1741, height: 526, containLabel: false, outerBoundsMode: 'none' });
  const last = g === panels.length - 1;
  xAxes.push(periodAxis(g, 'bottom', logTicks, 17, true, last));
  xAxes.push(periodAxis(g, 'bottom', logMinor, 9, false, false));
  xAxes.push(periodAxis(g, 'top', logTicks, 17, true, false));
  xAxes.push(periodAxis(g, 'top', logMinor, 9, false, false));
  yAxes.push({
    type: 'value', gridIndex: g, position: 'left', min: yRanges[g][0], max: yRanges[g][1],
    axisLine: { show: true, onZero: false, lineStyle: { color: AXIS, width: 1.3 } },
    axisTick: { show: true, inside: true, length: 18, customValues: yTickValues[g],
      lineStyle: { color: AXIS, width: 1.2 } },
    axisLabel: { show: true, customValues: yLabelValues[g], margin: 15, fontSize: 30, color: AXIS, fontFamily: FONT },
    splitLine: { show: false }
  });

  const base = { type: 'line', xAxisIndex: g * 4, yAxisIndex: g, symbol: 'none', silent: true, animation: false };
  series.push(bandSeries(g, p.band));
  if (p.lead) {
    series.push(Object.assign({}, base, { name: 'Frequency Binned', data: p.lead, lineStyle: { color: LIGHT, width: 1 } }));
  }
  series.push(Object.assign({}, base, { name: 'Frequency Binned', data: p.spikes, lineStyle: { color: LIGHT, width: 1.1 } }));
  series.push(Object.assign({}, base, { name: 'Period Binned', data: p.binned, lineStyle: { color: BLUE, width: 3.5 } }));
  series.push(Object.assign({}, base, { name: 'Red Noise', data: p.red, smooth: true, lineStyle: { color: RED, width: 1.6 } }));
  p.sig.forEach(pair => {
    series.push(Object.assign({}, base, { name: '99.7% Sig. Level', data: pair[0], smooth: true,
      lineStyle: { color: RED, width: 1.6, type: DASH } }));
    series.push(Object.assign({}, base, { name: '99.7% Sig. Level', data: pair[1], smooth: true,
      lineStyle: { color: RED, width: 1.6 } }));
  });
});

// titles, y label and legend box
const graphics = [];
panelTitles.forEach((t, i) => {
  graphics.push({ type: 'text', x: titlePos[i][0], y: titlePos[i][1], z: 100,
    style: { text: t, fill: '#000', font: '52px ' + FONT, align: 'center', verticalAlign: 'middle',
      textAlign: 'center', textVerticalAlign: 'middle' } });
});
graphics.push({ type: 'text', x: 61, y: 873, rotation: Math.PI / 2, z: 100,
  style: { text: 'Normalized Power Spectrum (decibels)', fill: '#000', font: '43px ' + FONT,
    align: 'center', verticalAlign: 'middle', textAlign: 'center', textVerticalAlign: 'middle' } });

const legendRows = [97.5, 133, 168.5, 204];
const legendStyles = [
  { stroke: LIGHT, lineWidth: 1 },
  { stroke: BLUE, lineWidth: 3.5 },
  { stroke: RED, lineWidth: 1.6 },
  { stroke: RED, lineWidth: 1.6, lineDash: [31, 20] }
];
graphics.push({ type: 'rect', z: 100, shape: { x: 1539.3, y: 72.7, width: 357.4, height: 154 },
  style: { fill: '#fff', stroke: AXIS, lineWidth: 1.3 } });
legendNames.forEach((n, i) => {
  graphics.push({ type: 'line', z: 101, shape: { x1: 1552, y1: legendRows[i], x2: 1645.5, y2: legendRows[i] },
    style: legendStyles[i] });
  graphics.push({ type: 'text', z: 101, x: 1656, y: legendRows[i] + 1,
    style: { text: n, fill: '#000', font: '28px ' + FONT, align: 'left', verticalAlign: 'middle',
      textAlign: 'left', textVerticalAlign: 'middle' } });
});

const chart = echarts.init(document.getElementById('chart'), null, { renderer: 'canvas' });
chart.setOption({
  backgroundColor: '#fff',
  animation: false,
  grid: grids,
  xAxis: xAxes,
  yAxis: yAxes,
  series: series,
  graphic: graphics
});
</script>
</body>
</html>
